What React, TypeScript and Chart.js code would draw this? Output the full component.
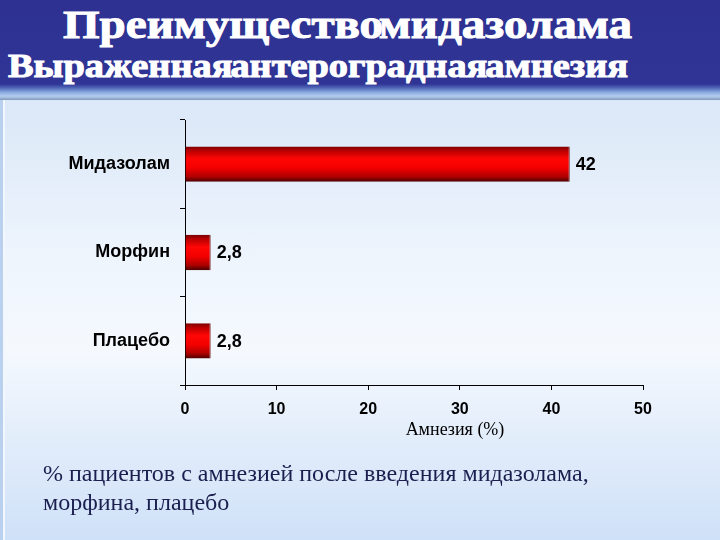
import React, { useEffect, useRef } from "react";
import { Chart, registerables } from "chart.js";

Chart.register(...registerables);

const categories = ["Мидазолам", "Морфин", "Плацебо"];
const amnesiaPercent = [42, 2.8, 2.8];
const valueLabels = ["42", "2,8", "2,8"];
const xMin = 0;
const xMax = 50;
const xStep = 10;
const titleLine1 = "Преимущество мидазолама";
const titleLine2 = "Выраженная антероградная амнезия";
const axisTitle = "Амнезия (%)";
const captionLines = [
  "% пациентов с амнезией после введения мидазолама,",
  "морфина, плацебо",
];

const barGradientPlugin = {
  id: "barGradient",
  beforeDatasetsDraw(chart: any) {
    const ctx = chart.ctx;
    chart.getDatasetMeta(0).data.forEach((el: any) => {
      const { y, height } = el.getProps(["y", "height"], true);
      const top = y - height / 2;
      const g = ctx.createLinearGradient(0, top, 0, top + height);
      g.addColorStop(0, "#7a0000");
      g.addColorStop(0.12, "#b80000");
      g.addColorStop(0.35, "#ff0606");
      g.addColorStop(0.6, "#f40000");
      g.addColorStop(0.85, "#b00000");
      g.addColorStop(1, "#4a0000");
      el.options.backgroundColor = g;
    });
  },
};

const valueLabelPlugin = {
  id: "valueLabels",
  afterDatasetsDraw(chart: any) {
    const ctx = chart.ctx;
    ctx.save();
    ctx.font = "bold 18px 'Liberation Sans', Arial, sans-serif";
    ctx.fillStyle = "#000";
    ctx.textAlign = "left";
    ctx.textBaseline = "middle";
    chart.getDatasetMeta(0).data.forEach((el: any, i: number) => {
      const { x, y } = el.getProps(["x", "y"], true);
      ctx.fillText(valueLabels[i], x + 6, y + 1);
    });
    ctx.restore();
  },
};

export default function App() {
  const canvasRef = useRef<HTMLCanvasElement | null>(null);
  const t1Ref = useRef<HTMLDivElement | null>(null);
  const t2Ref = useRef<HTMLDivElement | null>(null);

  useEffect(() => {
    document.body.style.margin = "0";
    const fit = (el: HTMLDivElement | null, target: number) => {
      if (!el) return;
      el.style.transform = "none";
      const w = el.getBoundingClientRect().width;
      if (w > 0) el.style.transform = `scaleX(${target / w})`;
    };
    fit(t1Ref.current, 569);
    fit(t2Ref.current, 620);

    const canvas = canvasRef.current;
    if (!canvas) return;
    const tickFont = { family: "'Liberation Sans', Arial, sans-serif", weight: "bold" as const, size: 16 };
    const chart = new Chart(canvas, {
      type: "bar",
      data: {
        labels: categories,
        datasets: [
          {
            data: amnesiaPercent,
            backgroundColor: () => "#e00000",
            borderColor: "#5a0000",
            borderWidth: { top: 0, bottom: 0, left: 0, right: 1 },
            barPercentage: 0.8,
            categoryPercentage: 0.5,
          },
        ],
      },
      options: {
        indexAxis: "y",
        responsive: false,
        animation: false,
        devicePixelRatio: 1,
        layout: { padding: { left: 0, right: 77, top: 120, bottom: 115 } },
        plugins: {
          legend: { display: false },
          tooltip: { enabled: false },
          title: { display: false },
        },
        scales: {
          x: {
            type: "linear",
            min: xMin,
            max: xMax,
            ticks: { stepSize: xStep, color: "#000", font: tickFont, padding: 10 },
            grid: { drawOnChartArea: false, tickLength: 5, color: "#000", tickColor: "#000" },
            border: { color: "#000", width: 1 },
            afterFit: (s: any) => {
              s.height = 40;
            },
          },
          y: {
            type: "category",
            ticks: {
              color: "#000",
              font: { family: "'Liberation Sans', Arial, sans-serif", weight: "bold", size: 18 },
              padding: 10,
            },
            grid: { drawOnChartArea: false, tickLength: 5, color: "#000", tickColor: "#000", offset: true },
            border: { color: "#000", width: 1 },
            afterFit: (s: any) => {
              s.width = 185;
            },
          },
        },
      },
      plugins: [barGradientPlugin, valueLabelPlugin],
    } as any);
    return () => chart.destroy();
  }, []);

  const titleStyle: React.CSSProperties = {
    position: "absolute",
    color: "#fff",
    fontFamily: "'Liberation Serif', 'Times New Roman', serif",
    fontWeight: "bold",
    whiteSpace: "nowrap",
    transformOrigin: "0 0",
    WebkitTextStroke: "1px #fff",
  };

  return (
    <div
      style={{
        position: "fixed",
        left: 0,
        top: 0,
        width: 720,
        height: 540,
        overflow: "hidden",
        background:
          "linear-gradient(to bottom, #d2e3f7 0px, #dde9f8 120px, #eef5fd 260px, #f5f9fe 350px, #e4eefb 430px, #cfe1f8 540px)",
      }}
    >
      <div
        style={{
          position: "absolute",
          left: 0,
          top: 0,
          width: 720,
          height: 100,
          background:
            "linear-gradient(to bottom, #2e3192 0px, #2f3495 84px, #5068b8 88px, #86a6de 92px, #b2cdf1 96px, #9fb6d4 98px, #7f98bd 100px)",
        }}
      />
      <div style={{ position: "absolute", left: 0, top: 100, width: 3, height: 440, background: "#b9d0ee" }} />
      <div style={{ position: "absolute", left: 3, top: 100, width: 2, height: 440, background: "#f2f7fd" }} />
      <div
        ref={t1Ref}
        style={{ ...titleStyle, left: 63, top: 2, fontSize: 41, lineHeight: "44px", wordSpacing: "-14px" }}
      >
        {titleLine1}
      </div>
      <div
        ref={t2Ref}
        style={{ ...titleStyle, left: 8, top: 48, fontSize: 33, lineHeight: "36px", wordSpacing: "-10px" }}
      >
        {titleLine2}
      </div>
      <canvas
        ref={canvasRef}
        width={720}
        height={540}
        style={{ position: "absolute", left: 0, top: 0, width: 720, height: 540 }}
      />
      <div
        style={{
          position: "absolute",
          left: 355,
          width: 200,
          top: 419,
          textAlign: "center",
          fontFamily: "'Liberation Serif', 'Times New Roman', serif",
          fontSize: 18,
          color: "#000",
        }}
      >
        {axisTitle}
      </div>
      <div
        style={{
          position: "absolute",
          left: 43,
          top: 459,
          fontFamily: "'Liberation Serif', 'Times New Roman', serif",
          fontSize: 24,
          lineHeight: "29px",
          color: "#1b1f4f",
          whiteSpace: "nowrap",
        }}
      >
        {captionLines.map((l, i) => (
          <div key={i}>{l}</div>
        ))}
      </div>
    </div>
  );
}
